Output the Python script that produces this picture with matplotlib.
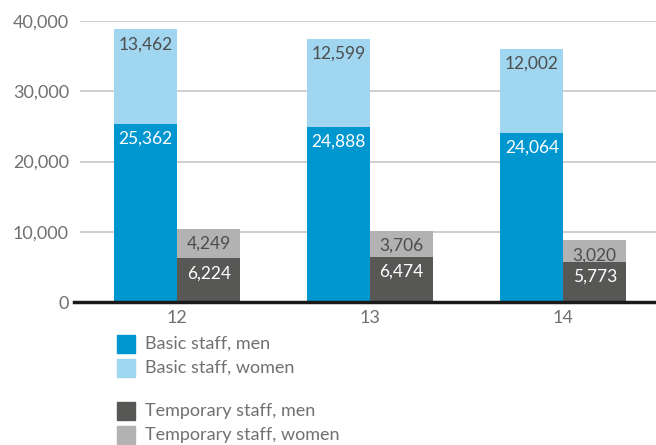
import matplotlib.pyplot as plt
from matplotlib.patches import Rectangle

plt.rcParams['font.family'] = ['Lato', 'DejaVu Sans']

years = [12, 13, 14]
basic_men = [25362, 24888, 24064]
basic_women = [13462, 12599, 12002]
temp_men = [6224, 6474, 5773]
temp_women = [4249, 3706, 3020]

c_bm = '#0096cf'
c_bw = '#a0d6ef'
c_tm = '#575756'
c_tw = '#b2b2b2'
txt = '#707070'

fig = plt.figure(figsize=(6.56, 4.45), dpi=100)
ax = fig.add_axes([0.122, 0.321, 0.878, 0.632])

w = 0.326
xb = [x - w / 2 for x in years]
xt = [x + w / 2 for x in years]

ax.bar(xb, basic_men, w, color=c_bm, zorder=3)
ax.bar(xb, basic_women, w, bottom=basic_men, color=c_bw, zorder=3)
ax.bar(xt, temp_men, w, color=c_tm, zorder=3)
ax.bar(xt, temp_women, w, bottom=temp_men, color=c_tw, zorder=3)

def label(x, top, val, color):
    ax.annotate(f'{val:,}', (x, top), xytext=(0, -5), textcoords='offset points',
                ha='center', va='top', fontsize=12.5, color=color, zorder=4)

for i in range(3):
    label(xb[i], basic_men[i], basic_men[i], 'white')
    label(xb[i], basic_men[i] + basic_women[i], basic_women[i], '#4d4d4d')
    label(xt[i], temp_men[i], temp_men[i], 'white')
    label(xt[i], temp_men[i] + temp_women[i], temp_women[i], '#4d4d4d')

ax.set_xlim(11.497, 14.48)
ax.set_ylim(0, 40000)
ax.set_yticks(range(0, 40001, 10000))
ax.set_yticklabels([f'{v:,}' for v in range(0, 40001, 10000)])
ax.set_xticks(years)
ax.grid(axis='y', color='#c6c6c6', linewidth=1.2, zorder=0)
ax.tick_params(length=0, labelsize=13, colors=txt, pad=8)
ax.tick_params(axis='x', pad=6)
for s in ax.spines.values():
    s.set_visible(False)
ax.axhline(0, color='#1a1a1a', linewidth=2.5, zorder=5, xmin=-0.01, clip_on=False)

# legend
items = [(c_bm, 'Basic staff, men', 344),
         (c_bw, 'Basic staff, women', 368),
         (c_tm, 'Temporary staff, men', 411),
         (c_tw, 'Temporary staff, women', 435)]
for col, name, ypx in items:
    fig.patches.append(Rectangle((117 / 656, 1 - (ypx + 9) / 445), 18 / 656, 18 / 445,
                                 transform=fig.transFigure, color=col))
    fig.text(145 / 656, 1 - ypx / 445, name, fontsize=13, color=txt, va='center')

fig.savefig('out.png', dpi=100)
